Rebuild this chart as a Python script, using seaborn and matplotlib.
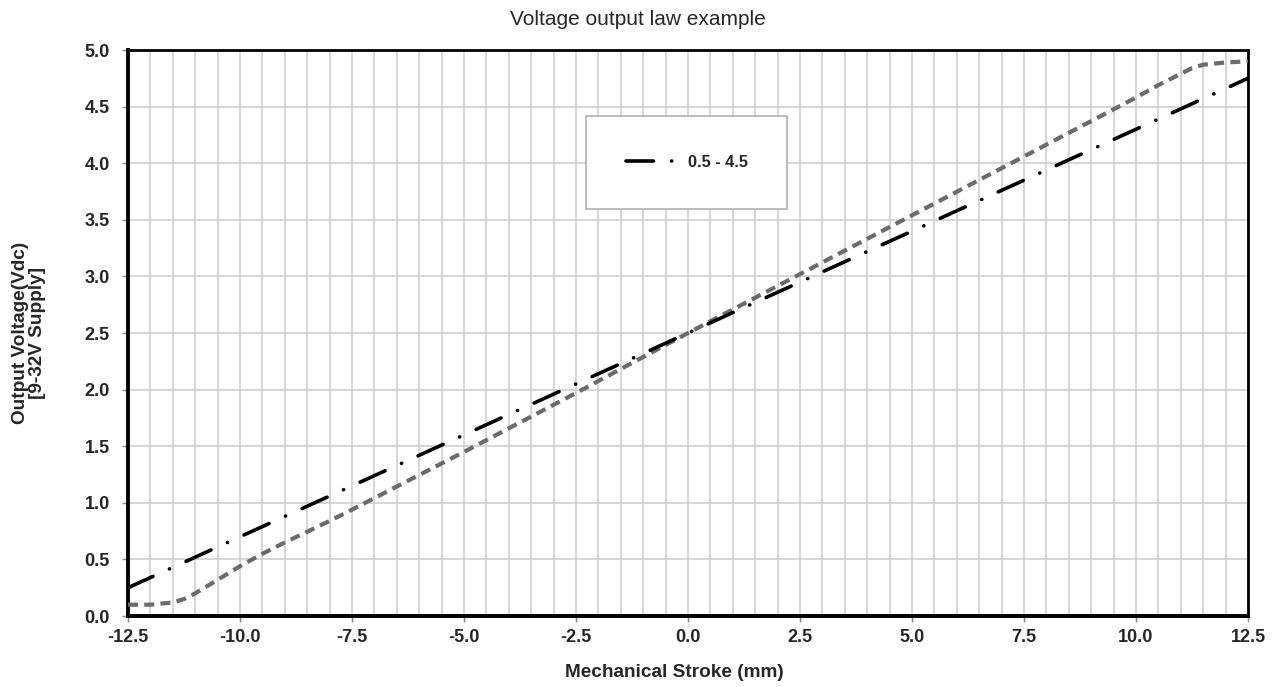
import numpy as np
import pandas as pd
import matplotlib
matplotlib.use("Agg")
import matplotlib.pyplot as plt
import seaborn as sns

# dash-dot law 0.5 - 4.5
stroke_a = [-12.5, 12.5]
volt_a = [0.25, 4.75]

# grey dashed curve
stroke_b = [-12.5, -12.0, -11.5, -11.25, -11.0, -10.5, -10.0, -9.5, -9.0, -8.0, -7.5,
            -5.0, -2.5, 0.0, 2.5, 5.0, 7.5, 10.0, 10.5, 11.0, 11.25, 11.5, 12.0, 12.5]
volt_b = [0.10, 0.10, 0.12, 0.15, 0.20, 0.32, 0.44, 0.55, 0.65, 0.84, 0.94,
          1.45, 1.97, 2.50, 3.02, 3.54, 4.06, 4.58, 4.69, 4.79, 4.84, 4.87, 4.89, 4.90]

xticks = np.arange(-12.5, 12.6, 2.5)
yticks = np.arange(0, 5.01, 0.5)

sns.set_style("white")
plt.rcParams['font.family'] = ['Liberation Sans', 'DejaVu Sans']

fig = plt.figure(figsize=(12.75, 6.87), dpi=100)
ax = fig.add_axes([0.1004, 0.1033, 0.8784, 0.8239])

df_a = pd.DataFrame({'x': stroke_a, 'y': volt_a})
df_b = pd.DataFrame({'x': stroke_b, 'y': volt_b})

sns.lineplot(data=df_b, x='x', y='y', ax=ax, color='#6b6b6b', linewidth=3,
             zorder=3)
ax.lines[-1].set_dashes((2.4, 1.5))
sns.lineplot(data=df_a, x='x', y='y', ax=ax, color='black', linewidth=2.6,
             label='0.5 - 4.5', zorder=4)
ax.lines[-1].set_dashes((7.6, 5, 0.05, 5))
ax.lines[-1].set_dash_capstyle('round')

ax.set_xlim(-12.5, 12.5)
ax.set_ylim(0, 5)
ax.set_xticks(xticks)
ax.set_yticks(yticks)
ax.set_xticklabels([f'{v:.1f}' for v in xticks], fontweight='bold', fontsize=13)
ax.set_yticklabels([f'{v:.1f}' for v in yticks], fontweight='bold', fontsize=13)
ax.set_xticks(np.arange(-12.5, 12.6, 0.5), minor=True)
ax.grid(True, which='both', color='#cccccc', linewidth=1.1)
ax.tick_params(axis='both', which='major', length=4, width=1, color='#888888',
               direction='out', bottom=True, left=True)
ax.tick_params(axis='y', which='major', pad=9)
ax.tick_params(axis='x', which='major', pad=5)
ax.tick_params(axis='x', which='minor', length=0)

for s in ax.spines.values():
    s.set_color('black')
    s.set_linewidth(2)
ax.spines['left'].set_linewidth(2.8)
ax.spines['bottom'].set_linewidth(2.8)

ax.set_xlabel('Mechanical Stroke (mm)', fontweight='bold', fontsize=13.7, labelpad=16)
ax.xaxis.set_label_coords(0.4875, -0.085)
ax.set_ylabel('Output Voltage(Vdc)\n[9-32V Supply]', fontweight='bold', fontsize=13.7,
              labelpad=28, linespacing=1.0)
fig.suptitle('Voltage output law example', y=0.985, fontsize=15)

leg = ax.legend(loc='center', bbox_to_anchor=(0.499, 0.801),
                frameon=True, fancybox=False, borderpad=2.4,
                handlelength=3.0, handletextpad=0.8,
                prop={'weight': 'bold', 'size': 11.8})
leg.get_frame().set_edgecolor('#b0b0b0')
leg.get_frame().set_linewidth(1.2)
leg.get_frame().set_alpha(1)

fig.savefig('out.png', dpi=100)
